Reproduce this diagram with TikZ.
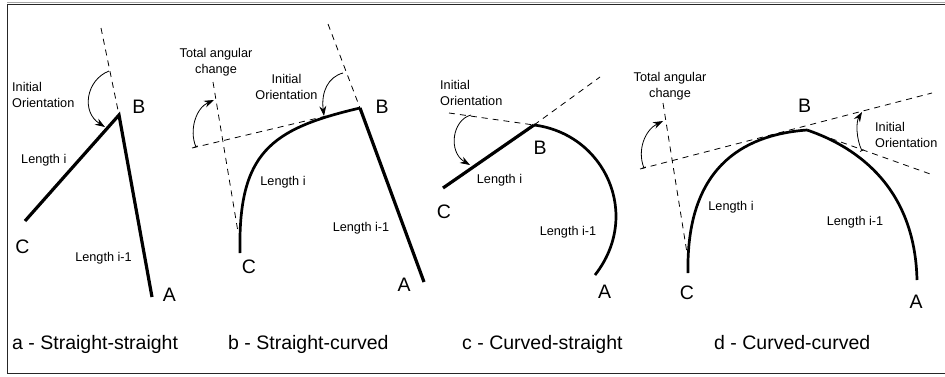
\documentclass[tikz,border=0pt]{standalone}
\usepackage{fontspec}
\setmainfont{Liberation Sans}
\usetikzlibrary{arrows.meta}
\begin{document}
\begin{tikzpicture}[x=1pt,y=-1pt,
  thickline/.style={line width=3.2pt},
  curveline/.style={line width=2.7pt},
  dashline/.style={line width=0.8pt, dash pattern=on 6pt off 5pt},
  angarrow/.style={line width=0.8pt, -{Stealth[length=10pt,width=7pt]}},
  angarrowbar/.style={line width=0.8pt, {Bar[width=4pt]}-{Stealth[length=10pt,width=7pt]}},
  big/.style={inner sep=0pt, font=\fontsize{19.5}{22}\selectfont},
  small/.style={inner sep=0pt, font=\fontsize{12.7}{16}\selectfont},
  caption/.style={inner sep=0pt, anchor=base west, font=\fontsize{19.5}{22}\selectfont},
]
\useasboundingbox[fill=white] (0,0) rectangle (945,376);
% frame
\draw[gray!70, line width=1.3pt] (7,2.5) -- (945,2.5);
\draw[black!85, line width=1pt] (945,4) -- (7.3,4) -- (7.3,373.5) -- (945,373.5);
\draw[black!85, line width=1.5pt] (7.3,373.5) -- (945,373.5);

% ---------- panel a ----------
\coordinate (aC) at (25,221);
\coordinate (aB) at (119,115);
\coordinate (aA) at (152,297);
\coordinate (aD) at (101,28);
\draw[dashline] (aD) -- (aB);
\draw[thickline, line join=miter] (aC) -- (aB) -- (aA);
\coordinate (aS) at (109,71);
\coordinate (aT) at (105,127);
\draw[angarrow] (aS) .. controls (86,80) and (81,112) .. (aT);
\node[small, anchor=west, align=left] (aIO) at (12,95) {Initial\\Orientation};
\node[big] (aBl) at (139,107) {B};
\node[small, anchor=west] (aLi) at (21,160) {Length i};
\node[big] (aCl) at (22.5,247) {C};
\node[small] (aLi1) at (103.5,258) {Length i-1};
\node[big] (aAl) at (169.5,295) {A};
\node[caption] (aCap) at (12,349) {a - Straight-straight};

% ---------- panel b ----------
\coordinate (bC) at (240,253);
\coordinate (bB) at (360,108);
\coordinate (bA) at (424,282);
\coordinate (bD3) at (328,24);
\coordinate (bD2) at (192,148);
\coordinate (bD1a) at (213,82);
\coordinate (bD1b) at (238,232);
\draw[dashline] (bD3) -- (bB);
\draw[dashline] (bD2) -- (bB);
\draw[dashline] (bD1a) -- (bD1b);
\draw[curveline] (bC) .. controls (238,153) and (270,129) .. (bB);
\draw[thickline] (bB) -- (bA);
\coordinate (bS1) at (343,73);
\coordinate (bT1) at (324,116);
\draw[angarrow] (bS1) .. controls (328,77) and (321,92) .. (bT1);
\coordinate (bS2) at (196,147);
\coordinate (bT2) at (214,100);
\draw[angarrowbar] (bS2) .. controls (189,130) and (196,108) .. (bT2);
\node[small, align=center] (bTA) at (216,62) {Total angular\\change};
\node[small, align=center] (bIO) at (286.5,87) {Initial\\Orientation};
\node[big] (bBl) at (382,107) {B};
\node[small] (bLi) at (283,182) {Length i};
\node[small] (bLi1) at (361,228) {Length i-1};
\node[big] (bCl) at (249,267) {C};
\node[big] (bAl) at (404,285) {A};
\node[caption] (bCap) at (228,349) {b - Straight-curved};

% ---------- panel c ----------
\coordinate (cC) at (443,188);
\coordinate (cB) at (534,125);
\coordinate (cA) at (595,275);
\coordinate (cD1) at (449,113);
\coordinate (cD2) at (600,77);
\draw[dashline] (cD1) -- (cB);
\draw[dashline] (cB) -- (cD2);
\draw[thickline] (cC) -- (cB);
\draw[curveline] (cB) .. controls (605,134) and (642,215) .. (cA);
\coordinate (cS) at (471,115);
\coordinate (cT) at (470,165);
\draw[angarrow] (cS) .. controls (452,120) and (448,152) .. (cT);
\node[small, anchor=west, align=left] (cIO) at (440,93) {Initial\\Orientation};
\node[big] (cBl) at (540,148) {B};
\node[small] (cLi) at (499.5,180) {Length i};
\node[big] (cCl) at (444,212) {C};
\node[small] (cLi1) at (568,232) {Length i-1};
\node[big] (cAl) at (604.5,292) {A};
\node[caption] (cCap) at (462,349) {c - Curved-straight};

% ---------- panel d ----------
\coordinate (dC) at (688,273);
\coordinate (dB) at (807,130);
\coordinate (dA) at (917,280);
\coordinate (dL1a) at (663,103);
\coordinate (dL1b) at (687,253);
\coordinate (dL2a) at (640,169);
\coordinate (dL2b) at (932,93);
\coordinate (dL3a) at (810,131);
\coordinate (dL3b) at (933,175);
\draw[dashline] (dL1a) -- (dL1b);
\draw[dashline] (dL2a) -- (dL2b);
\draw[dashline] (dL3a) -- (dL3b);
\draw[curveline] (dC) .. controls (686,170) and (740,135) .. (dB);
\draw[curveline] (dB) .. controls (860,148) and (915,190) .. (dA);
\coordinate (dS1) at (862,151);
\coordinate (dT1) at (862,112);
\draw[angarrowbar] (dS1) .. controls (856,138) and (856,122) .. (dT1);
\coordinate (dS2) at (644,168);
\coordinate (dT2) at (663,121);
\draw[angarrowbar] (dS2) .. controls (637,150) and (645,130) .. (dT2);
\node[small, align=center] (dTA) at (670,86) {Total angular\\change};
\node[big] (dBl) at (804.5,106) {B};
\node[small, anchor=west, align=left] (dIO) at (875,135) {Initial\\Orientation};
\node[small] (dLi) at (731,207) {Length i};
\node[small] (dLi1) at (855,222) {Length i-1};
\node[big] (dCl) at (687,293) {C};
\node[big] (dAl) at (916,302) {A};
\node[caption] (dCap) at (714,349) {d - Curved-curved};
\end{tikzpicture}
\end{document}
